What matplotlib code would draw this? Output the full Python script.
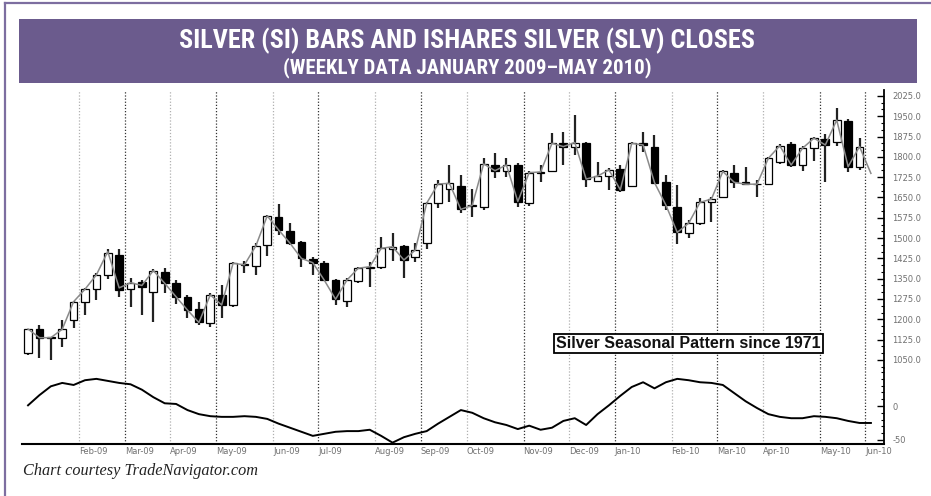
import matplotlib
matplotlib.use("Agg")
import matplotlib.pyplot as plt
import numpy as np
import pandas as pd
from matplotlib.patches import Rectangle
from matplotlib.ticker import MultipleLocator, FixedLocator
from matplotlib import font_manager

# ---------------- data ----------------
week_dates = pd.date_range("2009-01-02", periods=75, freq="W-FRI")

opens = [1075, 1163, 1134, 1132, 1197, 1265, 1311, 1364, 1438, 1311,
         1339, 1302, 1376, 1333, 1283, 1238, 1188, 1290, 1253, 1403,
         1397, 1474, 1577, 1526, 1487, 1422, 1409, 1345, 1268, 1343,
         1390, 1392, 1458, 1471, 1431, 1481, 1629, 1680, 1693, 1617,
         1616, 1770, 1749, 1770, 1629, 1740, 1748, 1853, 1838, 1850,
         1712, 1729, 1754, 1693, 1853, 1838, 1706, 1616, 1518, 1555,
         1635, 1653, 1740, 1706, 1700, 1699, 1782, 1847, 1770, 1834,
         1866, 1856, 1933, 1764]
highs = [1164, 1179, 1136, 1197, 1269, 1315, 1370, 1459, 1459, 1351,
         1345, 1386, 1391, 1345, 1290, 1265, 1296, 1327, 1413, 1417,
         1481, 1585, 1626, 1555, 1490, 1431, 1415, 1348, 1351, 1394,
         1413, 1505, 1520, 1475, 1481, 1635, 1715, 1770, 1733, 1680,
         1795, 1816, 1795, 1776, 1746, 1770, 1887, 1893, 1955, 1855,
         1782, 1760, 1770, 1855, 1891, 1881, 1733, 1696, 1567, 1647,
         1650, 1752, 1770, 1764, 1715, 1801, 1847, 1856, 1840, 1875,
         1883, 1982, 1940, 1869]
lows = [1068, 1057, 1050, 1097, 1167, 1216, 1271, 1348, 1283, 1244,
        1216, 1191, 1296, 1257, 1204, 1179, 1173, 1204, 1247, 1370,
        1364, 1434, 1511, 1474, 1394, 1364, 1340, 1253, 1244, 1333,
        1320, 1385, 1417, 1351, 1413, 1459, 1610, 1635, 1594, 1577,
        1604, 1721, 1727, 1614, 1620, 1708, 1745, 1770, 1807, 1690,
        1708, 1678, 1671, 1690, 1819, 1700, 1604, 1477, 1499, 1548,
        1561, 1647, 1684, 1695, 1653, 1695, 1775, 1764, 1748, 1785,
        1708, 1840, 1743, 1752]
closes = [1164, 1132, 1130, 1163, 1265, 1311, 1364, 1444, 1308, 1335,
          1320, 1380, 1333, 1283, 1234, 1191, 1290, 1253, 1407, 1399,
          1471, 1582, 1530, 1481, 1425, 1409, 1345, 1274, 1345, 1389,
          1394, 1462, 1468, 1419, 1456, 1629, 1700, 1702, 1606, 1621,
          1774, 1749, 1770, 1635, 1742, 1744, 1850, 1838, 1853, 1718,
          1729, 1752, 1678, 1850, 1844, 1705, 1622, 1521, 1555, 1632,
          1644, 1746, 1706, 1699, 1699, 1795, 1841, 1770, 1832, 1869,
          1844, 1936, 1764, 1838]
slv_close = [1164, 1132, 1132, 1163, 1265, 1311, 1364, 1450, 1316, 1335,
             1325, 1380, 1333, 1283, 1234, 1188, 1290, 1253, 1407, 1401,
             1471, 1582, 1530, 1481, 1425, 1409, 1345, 1274, 1345, 1389,
             1394, 1462, 1468, 1419, 1456, 1629, 1700, 1702, 1606, 1621,
             1774, 1749, 1770, 1635, 1742, 1744, 1850, 1838, 1853, 1718,
             1729, 1752, 1678, 1850, 1844, 1705, 1622, 1521, 1555, 1632,
             1644, 1746, 1706, 1699, 1699, 1795, 1841, 1770, 1832, 1869,
             1844, 1936, 1764, 1838, 1739]
seasonal = [1, 16, 29, 34, 31, 38, 40, 37, 34, 32,
            24, 13, 4, 3, -6, -12, -15, -16, -16, -15,
            -16, -19, -26, -32, -38, -44, -41, -38, -37, -37,
            -35, -44, -54, -46, -41, -37, -26, -16, -6, -10,
            -18, -24, -28, -34, -29, -35, -32, -22, -18, -28,
            -12, 1, 15, 28, 35, 26, 35, 40, 38, 35,
            34, 31, 19, 7, -3, -12, -16, -18, -18, -15,
            -16, -18, -22, -25, -25]
month_labels = ["Feb-09", "Mar-09", "Apr-09", "May-09", "Jun-09", "Jul-09",
                "Aug-09", "Sep-09", "Oct-09", "Nov-09", "Dec-09", "Jan-10",
                "Feb-10", "Mar-10", "Apr-10", "May-10", "Jun-10"]
price_ticks = [1050, 1125, 1200, 1275, 1350, 1425, 1500, 1575, 1650, 1725,
               1800, 1875, 1950, 2025]
seasonal_ticks = [0, -50]

title1 = "SILVER (SI) BARS AND ISHARES SILVER (SLV) CLOSES"
title2 = "(WEEKLY DATA JANUARY 2009\u2013MAY 2010)"
legend_text = "Silver Seasonal Pattern since 1971"
caption = "Chart courtesy TradeNavigator.com"

# ---------------- layout ----------------
W, H = 931, 496
fig = plt.figure(figsize=(W / 100, H / 100), dpi=100)
fig.patch.set_facecolor("white")

def fx(px):
    return px / W

def fy(py):
    return 1 - py / H

purple = "#6b5b8d"

# choose a narrow bold family for the banner if available
names = {f.name for f in font_manager.fontManager.ttflist}
narrow = None
for cand in ["Liberation Sans Narrow", "DejaVu Sans Condensed", "Roboto Condensed",
             "Open Sans Condensed"]:
    if cand in names:
        narrow = cand
        break
if narrow is not None:
    tfam = [narrow, "DejaVu Sans"]
    t1size, t2size, tstretch = 18.8, 15, "normal"
else:
    tfam = ["Roboto", "DejaVu Sans"]
    t1size, t2size, tstretch = 18.8, 15, "condensed"

# frame lines
fig.add_artist(plt.Line2D([fx(5), fx(5)], [fy(3), fy(496)], color="#7d6ea0", lw=1.6))
fig.add_artist(plt.Line2D([fx(5), fx(931)], [fy(3), fy(3)], color="#7d6ea0", lw=1.6))
# banner
fig.add_artist(Rectangle((fx(19), fy(83)), fx(917) - fx(19), fy(19) - fy(83),
                         transform=fig.transFigure, facecolor=purple, edgecolor="none"))
t1 = fig.text(fx(467), fy(40.5), title1, color="white", fontsize=t1size, fontweight="bold",
              family=tfam, fontstretch=tstretch, ha="center", va="center")
t2 = fig.text(fx(467), fy(67.5), title2, color="white", fontsize=t2size, fontweight="bold",
              family=tfam, fontstretch=tstretch, ha="center", va="center")

left, right = fx(22), fx(884)
top_y, mid_y, bot_y = 90, 368, 444
ax = fig.add_axes([left, fy(mid_y), right - left, fy(top_y) - fy(mid_y)])
ax2 = fig.add_axes([left, fy(bot_y), right - left, fy(mid_y) - fy(bot_y)], sharex=ax)

n = len(opens)
x = np.arange(n)
xs = np.arange(len(slv_close))

# month boundaries (first weekly bar of each month)
months = week_dates.to_period("M")
starts = [i for i in range(1, len(week_dates)) if months[i] != months[i - 1]]
line_pos = [s - 0.5 for s in starts]

for a in (ax, ax2):
    a.set_facecolor("none")
    for k, lp in enumerate(line_pos):
        dark = (k % 2 == 1) or k == len(line_pos) - 1
        a.axvline(lp, color="#333333" if dark else "#b0b0b0", lw=0.9,
                  linestyle=(0, (1, 1.5)), zorder=1)
    for s in ("left", "top"):
        a.spines[s].set_visible(False)
    a.spines["right"].set_color("black")
    a.spines["right"].set_linewidth(1.3)

ax.spines["bottom"].set_visible(False)
ax2.spines["bottom"].set_color("black")
ax2.spines["bottom"].set_linewidth(1.5)

# candles
for i in range(n):
    o, h, l, c = opens[i], highs[i], lows[i], closes[i]
    up = c >= o
    ax.vlines(x[i], l, h, color="#222222", lw=1.6, zorder=2)
    bottom = min(o, c)
    height = max(abs(c - o), 2)
    ax.add_patch(Rectangle((x[i] - 0.34, bottom), 0.68, height,
                           facecolor="white" if up else "black",
                           edgecolor="black", lw=0.9, zorder=3))
ax.plot(xs, slv_close, color="#8a8a8a", lw=1.1, zorder=4)

ax.set_xlim(-0.53, 75.15)
ax.set_ylim(1020, 2047)
ax.yaxis.tick_right()
ax.yaxis.set_major_locator(FixedLocator(price_ticks))
ax.set_yticklabels([f"{v:.1f}" for v in price_ticks])
ax.yaxis.set_minor_locator(MultipleLocator(25))
ax.tick_params(axis="y", which="major", direction="in", length=5, width=1,
               labelsize=6, labelcolor="#707070", pad=6)
ax.tick_params(axis="y", which="minor", direction="in", length=2.5, width=0.8)
ax.tick_params(axis="x", which="both", length=0, labelbottom=False)

ax.text((688.5 - 22) / (884 - 22), (368 - 343.5) / (368 - 90), legend_text,
        transform=ax.transAxes, ha="center", va="center", fontsize=11.5,
        fontweight="bold", family=["Liberation Sans", "DejaVu Sans"], color="#111111",
        bbox=dict(boxstyle="square,pad=0.12", facecolor="white",
                  edgecolor="black", lw=1.3), zorder=6)

# seasonal panel
ax2.plot(xs, seasonal, color="black", lw=1.4, zorder=4)
ax2.set_ylim(-56, 56)
ax2.yaxis.tick_right()
ax2.yaxis.set_major_locator(FixedLocator(seasonal_ticks))
ax2.set_yticklabels([str(v) for v in seasonal_ticks])
ax2.yaxis.set_minor_locator(MultipleLocator(10))
ax2.tick_params(axis="y", which="major", direction="in", length=5, width=1,
                labelsize=6, labelcolor="#707070", pad=6)
ax2.tick_params(axis="y", which="minor", direction="in", length=2.5, width=0.8)
ax2.set_xticks(line_pos)
ax2.set_xticklabels(month_labels, ha="left")
ax2.tick_params(axis="x", which="both", length=0, labelsize=6,
                labelcolor="#707070", pad=2)

fig.text(fx(23), fy(471), caption, fontsize=11.7, style="italic",
         family=["Liberation Serif", "DejaVu Serif"], color="#222222",
         ha="left", va="center")

fig.savefig("out.png", dpi=100)
